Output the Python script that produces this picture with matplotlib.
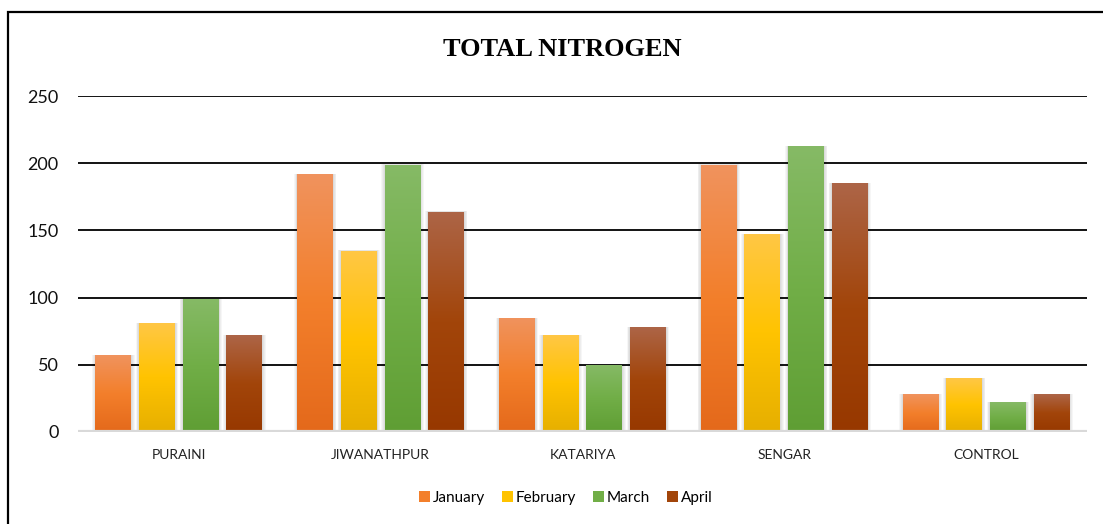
import numpy as np
import matplotlib.pyplot as plt
from matplotlib.colors import LinearSegmentedColormap
from matplotlib.patches import Rectangle

# data
sites = ['PURAINI', 'JIWANATHPUR', 'KATARIYA', 'SENGAR', 'CONTROL']
months = ['January', 'February', 'March', 'April']
january = [57, 192, 85, 199, 28]
february = [81, 135, 72, 147, 40]
march = [99, 199, 50, 213, 22]
april = [72, 164, 78, 185, 28]
yticks = [0, 50, 100, 150, 200, 250]

# gradient colours (top, middle, bottom) for each month
shades = [
    ['#F0935E', '#F37F2B', '#E4691B'],
    ['#FFC745', '#FFC300', '#E6AF00'],
    ['#86BA66', '#71AE47', '#5F9E34'],
    ['#AD6547', '#A2450A', '#973800'],
]

plt.rcParams['font.family'] = ['Lato', 'DejaVu Sans']

fig = plt.figure(figsize=(11.03, 5.24), dpi=100)
ax = fig.add_axes([78 / 1103, 92 / 524, 1009 / 1103, 336 / 524])

x = np.arange(len(sites))
width = 0.178
step = 0.2165
series = [january, february, march, april]

handles = []
for i, (vals, cols) in enumerate(zip(series, shades)):
    pos = x + (i - 1.5) * step
    cmap = LinearSegmentedColormap.from_list('g%d' % i, cols)
    grad = np.linspace(0, 1, 256).reshape(-1, 1)
    for xp, v in zip(pos, vals):
        # soft shadow
        for k in range(4):
            d = 0.004 * (k + 1)
            ax.add_patch(Rectangle((xp - width / 2 - d, -1.5), width + 2 * d, v + 1.5 + d * 8,
                                   facecolor='#000000', alpha=0.035, edgecolor='none', zorder=2))
        r = Rectangle((xp - width / 2, 0), width, v, facecolor='none', edgecolor='none', zorder=3)
        ax.add_patch(r)
        im = ax.imshow(grad, cmap=cmap, aspect='auto', origin='upper',
                       extent=(xp - width / 2, xp + width / 2, 0, v), zorder=3)
        im.set_clip_path(r)
    handles.append(Rectangle((0, 0), 1, 1, facecolor=cols[1], edgecolor='none'))

ax.set_xlim(-0.5, len(sites) - 0.5)
ax.set_ylim(0, 250)
ax.set_yticks(yticks)
ax.set_yticklabels([str(t) for t in yticks], fontsize=13, color='#111111')
ax.set_xticks(x)
ax.set_xticklabels(sites, fontsize=10, color='#222222')
ax.tick_params(axis='y', length=0, pad=14)
ax.tick_params(axis='x', length=0, pad=12)

for t in yticks[1:]:
    ax.axhline(t, color='black', lw=1.3, zorder=1)
ax.axhline(0, color='#D9D9D9', lw=3, zorder=4)

for s in ax.spines.values():
    s.set_visible(False)

fig.text(562 / 1103, 1 - 49 / 524, 'TOTAL NITROGEN', ha='center', va='center',
         fontsize=19, fontweight='bold', family='Liberation Serif')

fig.legend(handles, months, loc='center', bbox_to_anchor=(566 / 1103, 1 - 498 / 524),
           ncol=4, frameon=False, fontsize=11, handlelength=0.7, handleheight=0.7,
           handletextpad=0.2, columnspacing=1.1)

# outer frame
fig.add_artist(Rectangle((8 / 1103, -0.1), 1.2, 1.1 - 12 / 524, transform=fig.transFigure,
                         facecolor='none', edgecolor='black', lw=1.6))

fig.savefig('out.png', dpi=100)
